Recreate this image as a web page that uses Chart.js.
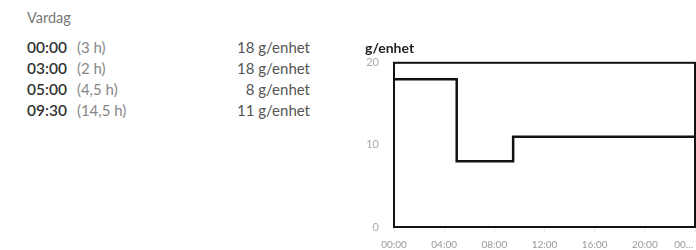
<!DOCTYPE html>
<html>
<head>
<meta charset="utf-8">
<script src="https://cdn.jsdelivr.net/npm/chart.js@4.4.1/dist/chart.umd.min.js"></script>
<style>
  html, body { margin: 0; padding: 0; background: #fff; overflow: hidden; }
  body { width: 696px; height: 250px; position: relative; font-family: Lato, "Open Sans", sans-serif; }
  #list { position: absolute; left: 27px; top: 7px; width: 283px; }
  #list .head { font-size: 14.5px; color: #777; height: 22px; line-height: 22px; margin-bottom: 8px; }
  #list .row { height: 21px; line-height: 21px; font-size: 15px; position: relative; }
  #list .t { color: #333; font-size: 15.5px; font-weight: 600; }
  #list .d { color: #888; margin-left: 10px; }
  #list .v { position: absolute; right: 0; top: 0; color: #555; }
  #wrap { position: absolute; left: 340px; top: 0; width: 356px; height: 250px; }
</style>
</head>
<body>
<div id="list"><div class="head">Vardag</div></div>
<div id="wrap"><canvas id="c" width="356" height="250"></canvas></div>
<script>
// schedule (weekday)
const startLabels = ["00:00", "03:00", "05:00", "09:30"];
const durations = ["(3 h)", "(2 h)", "(4,5 h)", "(14,5 h)"];
const doses = [18, 18, 8, 11];
const unit = "g/enhet";

// step points for the chart (hours of the day)
const hours = [0, 3, 5, 9.5, 24];
const values = [18, 18, 8, 11, 11];
const xTicks = [0, 4, 8, 12, 16, 20, 24];
const xTickLabels = ["00:00", "04:00", "08:00", "12:00", "16:00", "20:00", "00\u2026\u2003\u2003\u2003"];
const yTicks = [0, 10, 20];

const list = document.getElementById("list");
startLabels.forEach((s, i) => {
  const row = document.createElement("div");
  row.className = "row";
  row.innerHTML = '<span class="t">' + s + '</span><span class="d">' + durations[i] +
    '</span><span class="v">' + doses[i] + ' ' + unit + '</span>';
  list.appendChild(row);
});

const frame = {
  id: "frame",
  afterDatasetsDraw(chart) {
    const a = chart.chartArea, ctx = chart.ctx;
    ctx.save();
    ctx.strokeStyle = "#111";
    ctx.lineWidth = 2;
    ctx.strokeRect(a.left, a.top, a.right - a.left, a.bottom - a.top);
    ctx.restore();
  }
};

new Chart(document.getElementById("c"), {
  type: "line",
  data: {
    datasets: [{
      data: hours.map((h, i) => ({ x: h, y: values[i] })),
      stepped: true,
      borderColor: "#111",
      borderWidth: 2.5,
      pointRadius: 0,
      fill: false
    }]
  },
  plugins: [frame],
  options: {
    responsive: false,
    animation: false,
    devicePixelRatio: 1,
    layout: { padding: { left: 25, right: 1, top: 40, bottom: 0 } },
    plugins: {
      legend: { display: false },
      tooltip: { enabled: false },
      title: {
        display: true,
        text: unit,
        align: "start",
        color: "#222",
        font: { family: "Lato", size: 14, weight: "bold" },
        padding: { top: 0, bottom: 6 }
      }
    },
    scales: {
      x: {
        type: "linear",
        min: 0,
        max: 24,
        afterBuildTicks(s) { s.ticks = xTicks.map(v => ({ value: v })); },
        afterFit(s) { s.paddingLeft = 0; s.paddingRight = 0; s.height = 23; },
        ticks: {
          autoSkip: false,
          maxRotation: 0,
          color: "#999",
          font: { family: "Lato", size: 10 },
          padding: 6,
          callback: (v) => xTickLabels[xTicks.indexOf(v)]
        },
        grid: { drawOnChartArea: false, color: "#e8e8e8", tickLength: 6 },
        border: { display: false }
      },
      y: {
        min: 0,
        max: 20,
        afterBuildTicks(s) { s.ticks = yTicks.map(v => ({ value: v })); },
        afterFit(s) { s.width = 29; },
        ticks: {
          color: "#aaa",
          font: { family: "Lato", size: 11 },
          padding: 7
        },
        grid: { display: false },
        border: { display: false }
      }
    }
  }
});
</script>
</body>
</html>
